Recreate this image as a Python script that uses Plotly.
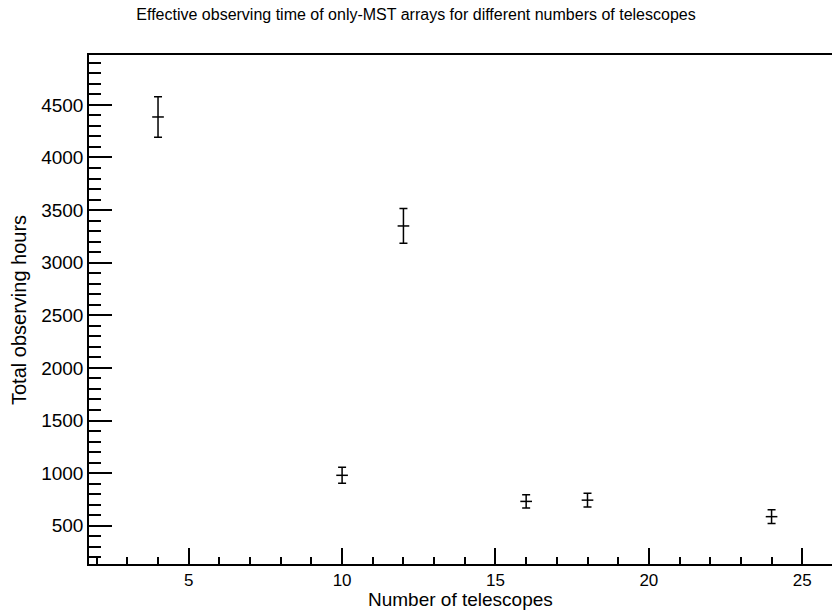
import plotly.graph_objects as go

# Data
n_telescopes = [4, 10, 12, 16, 18, 24]
hours = [4385, 979, 3349, 731, 743, 586]
hours_err = [193, 76, 165, 63, 66, 66]
x_err = [0.19, 0.19, 0.19, 0.19, 0.19, 0.19]

title_text = "Effective observing time of only-MST arrays for different numbers of telescopes"
x_title = "Number of telescopes"
y_title = "Total observing hours"

FONT = "Liberation Sans, Arial, Helvetica, sans-serif"
W, H = 832, 610
L, R, T, B = 89, 0, 55, 46

fig = go.Figure()
fig.add_trace(go.Scatter(
    x=n_telescopes, y=hours, mode="markers",
    marker=dict(size=1, color="black", opacity=0),
    error_y=dict(type="data", array=hours_err, visible=True, color="black",
                 thickness=1.5, width=4),
    error_x=dict(type="data", array=x_err, visible=True, color="black",
                 thickness=1.5, width=0),
    showlegend=False,
))

plot_h = H - T - B
plot_w = W - L - R

fig.update_layout(
    width=W, height=H,
    margin=dict(l=L, r=R, t=T, b=B),
    paper_bgcolor="white", plot_bgcolor="white",
    font=dict(family=FONT, color="black", size=19),
    title=dict(text=title_text, x=0.5, xanchor="center", y=1 - 14 / H,
               yanchor="middle", font=dict(size=16, family=FONT)),
    xaxis=dict(
        range=[1.75, 25.97], showgrid=False, zeroline=False,
        showline=True, linecolor="black", linewidth=1.5, mirror=True,
        ticks="inside", ticklen=16, tickwidth=1.5, tickcolor="black",
        tick0=0, dtick=5,
        minor=dict(ticks="inside", ticklen=7, dtick=1, tickwidth=1.5, tickcolor="black"),
        tickfont=dict(size=17),
        automargin=False,
    ),
    yaxis=dict(
        range=[136, 4974], showgrid=False, zeroline=False,
        showline=True, linecolor="black", linewidth=1.5, mirror=False,
        ticks="inside", ticklen=23, tickwidth=1.5, tickcolor="black",
        tick0=0, dtick=500,
        minor=dict(ticks="inside", ticklen=12, dtick=100, tickwidth=1.5, tickcolor="black"),
        tickfont=dict(size=19),
        automargin=False,
    ),
    annotations=[
        dict(text=x_title, xref="paper", yref="paper",
             x=(460 - L) / plot_w, y=-(599.5 - (H - B)) / plot_h,
             xanchor="center", yanchor="middle", showarrow=False,
             font=dict(size=19, family=FONT, color="black")),
        dict(text=y_title, xref="paper", yref="paper",
             x=-(L - 19) / plot_w, y=((H - B) - 310) / plot_h,
             xanchor="center", yanchor="middle", textangle=-90, showarrow=False,
             font=dict(size=20, family=FONT, color="black")),
    ],
)

fig.write_html("out.html")
